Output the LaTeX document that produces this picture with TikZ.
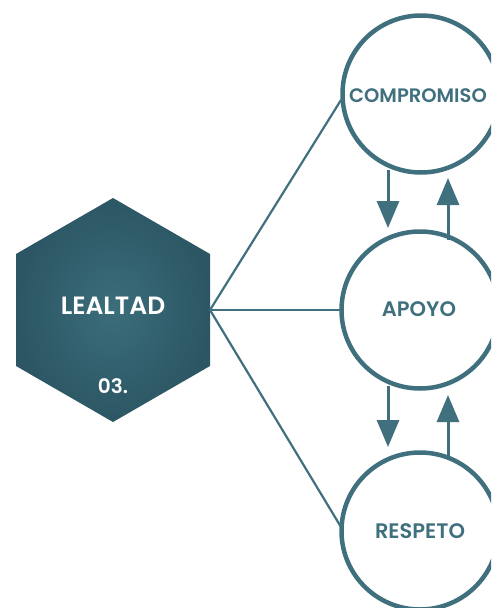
\documentclass[tikz,border=0pt]{standalone}
\usepackage{fontspec}
\setmainfont{Poppins}[UprightFont=* SemiBold]
\usetikzlibrary{arrows.meta}
\definecolor{teal1}{HTML}{40707E}
\definecolor{hexin}{HTML}{3B6D7B}
\definecolor{hexout}{HTML}{2C5663}
\begin{document}
\begin{tikzpicture}[x=1pt,y=-1pt,
  link/.style={draw=teal1,line width=2.2pt},
  ring/.style={circle,draw=teal1,line width=4.5pt,minimum size=157pt,inner sep=0pt,fill=white},
  flow/.style={draw=teal1,line width=3pt,-{Triangle[length=27pt,width=22pt]}},
  ringtext/.style={text=teal1,font=\fontsize{21}{25}\selectfont},
]
\clip (0,0) rectangle (491,608);
\path[use as bounding box] (0,0) rectangle (491,608);

% central hexagon
\coordinate (hv) at (210,310);
\shade[inner color=hexin,outer color=hexout]
  (113,198) -- (210,254) -- (210,366) -- (113,422) -- (16,366) -- (16,254) -- cycle;
\node[text=white,font=\fontsize{25}{30}\selectfont] (lealtad) at (113,306) {LEALTAD};
\node[text=white,font=\fontsize{20}{24}\selectfont] (num) at (113,386) {03.};

% connectors to the circles
\coordinate (e1) at (341,100);
\coordinate (e2) at (341,310);
\coordinate (e3) at (341,527);
\draw[link] (hv) -- (e1);
\draw[link] (hv) -- (e2);
\draw[link] (hv) -- (e3);

% value circles
\node[ring] (c1) at (421,94) {};
\node[ring] (c2) at (420,310) {};
\node[ring] (c3) at (420,531) {};
\node[ringtext,font=\fontsize{19.5}{24}\selectfont] (t1) at (418,96) {COMPROMISO};
\node[ringtext] (t2) at (419,309) {APOYO};
\node[ringtext] (t3) at (420,531) {RESPETO};

% arrows between circles
\coordinate (a1s) at (388,170);
\coordinate (a1e) at (388,228);
\coordinate (a2s) at (448,240);
\coordinate (a2e) at (448,178);
\coordinate (a3s) at (388,386);
\coordinate (a3e) at (388,447);
\coordinate (a4s) at (448,456);
\coordinate (a4e) at (448,395);
\draw[flow] (a1s) -- (a1e);
\draw[flow] (a2s) -- (a2e);
\draw[flow] (a3s) -- (a3e);
\draw[flow] (a4s) -- (a4e);
\end{tikzpicture}
\end{document}
